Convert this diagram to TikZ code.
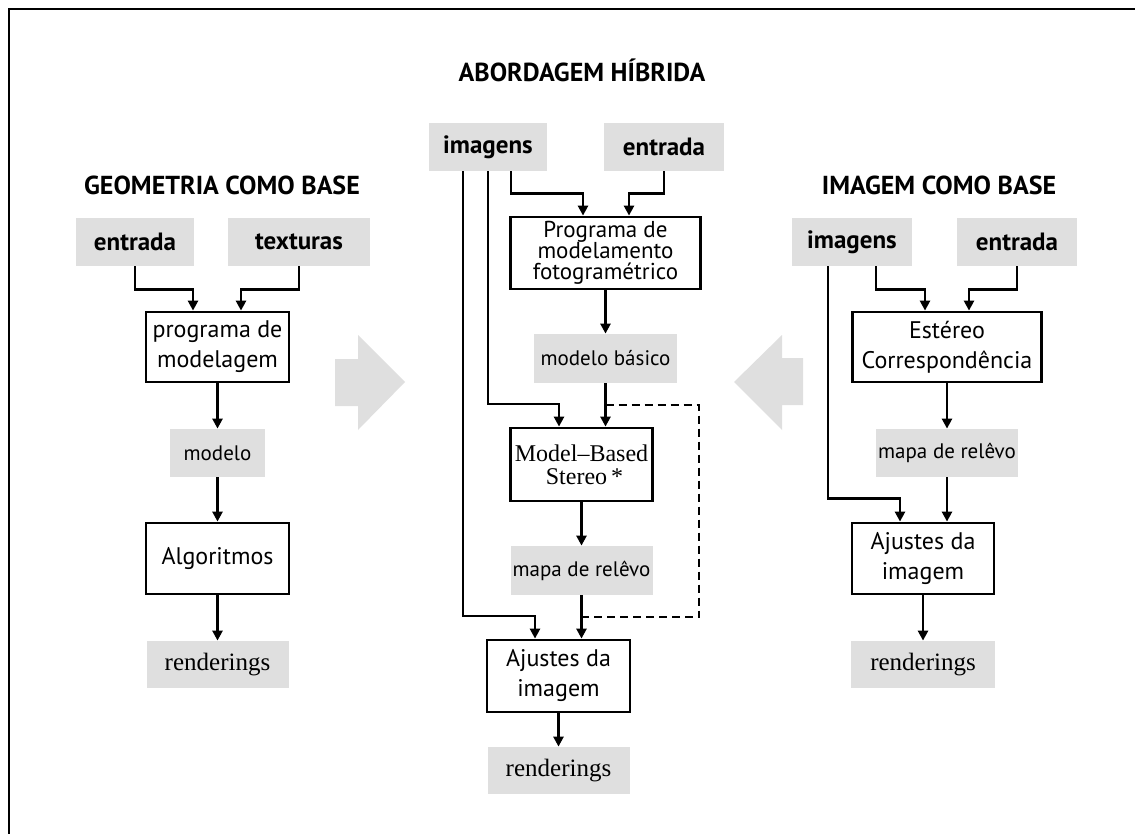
\documentclass[tikz,border=0pt]{standalone}
\usepackage{fontspec}
\setmainfont{Liberation Serif}
\newfontfamily\myriad{PT Sans}
\usetikzlibrary{arrows.meta}
\usetikzlibrary{calc}

\begin{document}
\begin{tikzpicture}[x=0.5pt, y=-0.5pt,
      normal/.style={line width=1.3pt, -{Triangle[length=5pt,width=5pt]}},
      dashed line/.style={line width=1.3pt, dash pattern=on 4pt off 2.5pt},
      frame line/.style={line width=1.3pt},
      big arrow/.style={fill=gray!25},
      title/.style={font=\myriad\bfseries\fontsize{13}{15}\selectfont},
      input/.style={fill=gray!25, minimum height=24pt, inner sep=0pt,
        font=\myriad\bfseries\fontsize{12.5}{14}\selectfont},
      data/.style={fill=gray!25, minimum height=24pt, inner sep=0pt,
        font=\myriad\fontsize{10.5}{12}\selectfont},
      result/.style={fill=gray!25, minimum height=23.5pt, inner sep=0pt,
        font=\fontsize{12.5}{14}\selectfont},
      process/.style={draw, line width=1.4pt, inner sep=0pt, align=center,
        font=\myriad\fontsize{12}{15}\selectfont}
      ]
      \useasboundingbox (0,0) rectangle (1135,834);
      \draw[frame line] (8,9) -- (1135,9);
      \draw[frame line] (9,9) -- (9,834);

      % geometria como base
      \node[title] (GeoTitle) at (222,185) {GEOMETRIA COMO BASE};
      \node[input, minimum width=59pt] (GeoEntrada) at (135,242) {entrada};
      \node[input, minimum width=71pt] (GeoTexturas) at (299,242) {texturas};
      \node[process, minimum width=71.5pt, minimum height=35pt] (GeoPrograma) at (217.5,347) {programa de\\modelagem};
      \node[data, minimum width=47.5pt] (GeoModelo) at (217.5,453) {modelo};
      \node[process, minimum width=71.5pt, minimum height=35.5pt] (GeoAlgoritmos) at (217.5,558.5) {Algoritmos};
      \node[result, minimum width=71pt] (GeoRender) at (217.5,664.5) {renderings};

      \draw[normal] (GeoEntrada.south) -- ++(0,23) -| ($(GeoPrograma.north)+(-24.5,0)$);
      \draw[normal] (GeoTexturas.south) -- ++(0,23) -| ($(GeoPrograma.north)+(23.5,0)$);
      \draw[normal] (GeoPrograma.south) -- (GeoModelo.north);
      \draw[normal] (GeoModelo.south) -- (GeoAlgoritmos.north);
      \draw[normal] (GeoAlgoritmos.south) -- (GeoRender.north);

      % abordagem hibrida
      \node[title] (HibTitle) at (582,70) {ABORDAGEM HÍBRIDA};
      \node[input, minimum width=59pt] (HibImagens) at (488,147) {imagens};
      \node[input, minimum width=60pt] (HibEntrada) at (664,147) {entrada};
      \node[process, minimum width=95pt, minimum height=36pt,
        font=\myriad\fontsize{11.5}{10.5}\selectfont] (HibPrograma) at (605.5,253) {Programa de\\modelamento\\fotogramétrico};
      \node[data, minimum width=71.5pt, minimum height=24.5pt] (HibModelo) at (605.5,358.5) {modelo básico};
      \node[process, minimum width=71pt, minimum height=36.5pt,
        font=\fontsize{12}{11.5}\selectfont] (HibStereo) at (581.5,464.5) {Model--Based\\\ Stereo\,*};
      \node[data, minimum width=71pt, minimum height=24.5pt] (HibMapa) at (581.5,570.5) {mapa de relêvo};
      \node[process, minimum width=71.5pt, minimum height=36pt] (HibAjustes) at (558.5,676) {Ajustes da\\imagem};
      \node[result, minimum width=71pt] (HibRender) at (558.5,770.5) {renderings};

      \coordinate (LoopTop) at ($(HibModelo.south)!0.5!(HibModelo.south |- HibStereo.north)$);
      \coordinate (LoopBot) at ($(HibMapa.south)!0.5!(HibMapa.south |- HibAjustes.north)$);

      \draw[normal] ($(HibImagens.south)+(23,0)$) -- ++(0,22) -| ($(HibPrograma.north)+(-22.5,0)$);
      \draw[normal] (HibEntrada.south) -- ++(0,22) -| ($(HibPrograma.north)+(23.5,0)$);
      \draw[normal] (HibPrograma.south) -- (HibModelo.north);
      \draw[normal] (HibModelo.south) -- (HibModelo.south |- HibStereo.north);
      \draw[normal] (HibImagens.south) |- ($(HibStereo.north)+(-22.5,-22.5)$) -- ($(HibStereo.north)+(-22.5,0)$);
      \draw[normal] ($(HibImagens.south)+(-25,0)$) |- ($(HibAjustes.north)+(-23.5,-22.5)$) -- ($(HibAjustes.north)+(-23.5,0)$);
      \draw[normal] (HibStereo.south) -- (HibMapa.north);
      \draw[normal] (HibMapa.south) -- (HibMapa.south |- HibAjustes.north);
      \draw[normal] (HibAjustes.south) -- (HibRender.north);
      \draw[dashed line] (LoopTop) -- ++(93.5,0) |- (LoopBot);

      % imagem como base
      \node[title] (ImgTitle) at (939,185) {IMAGEM COMO BASE};
      \node[input, minimum width=60pt] (ImgImagens) at (852,242) {imagens};
      \node[input, minimum width=60pt] (ImgEntrada) at (1017,242) {entrada};
      \node[process, minimum width=94.5pt, minimum height=35pt] (ImgEstereo) at (947,347) {Estéreo\\Correspondência};
      \node[data, minimum width=71pt] (ImgMapa) at (947,453) {mapa de relêvo};
      \node[process, minimum width=71pt, minimum height=35.5pt] (ImgAjustes) at (923,558.5) {Ajustes da\\imagem};
      \node[result, minimum width=72pt] (ImgRender) at (923,664.5) {renderings};

      \draw[normal] ($(ImgImagens.south)+(24,0)$) -- ++(0,23) -| ($(ImgEstereo.north)+(-22,0)$);
      \draw[normal] (ImgEntrada.south) -- ++(0,23) -| ($(ImgEstereo.north)+(22,0)$);
      \draw[normal] ($(ImgImagens.south)+(-24,0)$) |- ($(ImgAjustes.north)+(-23,-23)$) -- ($(ImgAjustes.north)+(-23,0)$);
      \draw[normal] (ImgEstereo.south) -- (ImgMapa.north);
      \draw[normal] (ImgMapa.south) -- (ImgMapa.south |- ImgAjustes.north);
      \draw[normal] (ImgAjustes.south) -- (ImgRender.north);

      % big arrows
      \fill[big arrow] (335,359) -- (358,359) -- (358,335) -- (405,382) -- (358,430) -- (358,406) -- (335,406) -- cycle;
      \fill[big arrow] (803,358) -- (782,358) -- (782,335) -- (734,382) -- (782,430) -- (782,405) -- (803,405) -- cycle;
    \end{tikzpicture}
\end{document}
